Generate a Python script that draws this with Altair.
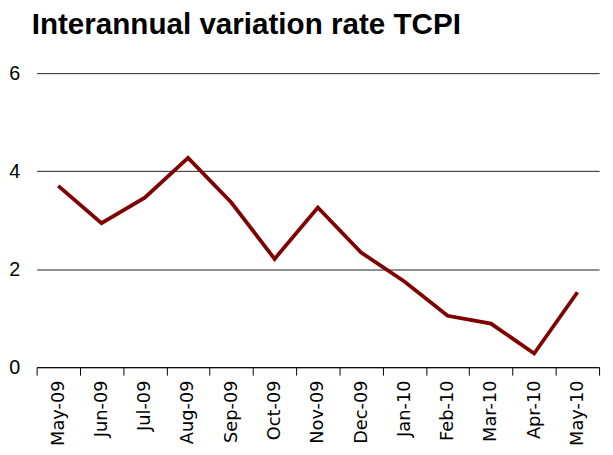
import altair as alt
import pandas as pd

months = ["May-09", "Jun-09", "Jul-09", "Aug-09", "Sep-09", "Oct-09", "Nov-09",
          "Dec-09", "Jan-10", "Feb-10", "Mar-10", "Apr-10", "May-10"]
values = [3.70, 2.94, 3.46, 4.27, 3.36, 2.21, 3.26, 2.34, 1.75, 1.05, 0.89, 0.28, 1.53]
y_ticks = [0, 2, 4, 6]

df = pd.DataFrame({"month": months, "value": values})
FONT = "Liberation Sans"

chart = alt.Chart(df).mark_line(color="#800000", strokeWidth=3.8, strokeJoin="miter").encode(
    x=alt.X("month:N", sort=months, bandPosition=0.5, title=None,
            scale=alt.Scale(type="band", paddingInner=0, paddingOuter=0),
            axis=alt.Axis(labelAngle=-90, labelFontSize=18, labelFont="DejaVu Sans", labelColor="black",
                          tickBand="extent", tickSize=8, tickColor="black", tickWidth=1,
                          domainColor="black", domainWidth=1, labelPadding=5, grid=False)),
    y=alt.Y("value:Q", title=None,
            scale=alt.Scale(domain=[0, 6], nice=False),
            axis=alt.Axis(values=y_ticks, grid=True, gridColor="#222", gridWidth=1,
                          domain=False, ticks=False, labelFontSize=20, labelFont=FONT,
                          labelColor="black", labelPadding=17)),
).properties(
    width=570,
    height=298,
    autosize=alt.AutoSizeParams(type="none"),
    padding={"left": 29, "top": 63, "right": 6, "bottom": 90},
    title=alt.TitleParams("Interannual variation rate TCPI", anchor="start", frame="group",
                          fontSize=30, font=FONT, fontWeight="bold", color="black",
                          baseline="alphabetic", offset=0, dx=-5),
).configure_view(stroke=None)

chart.save("out.html", embed_options={"renderer": "svg", "actions": False})
